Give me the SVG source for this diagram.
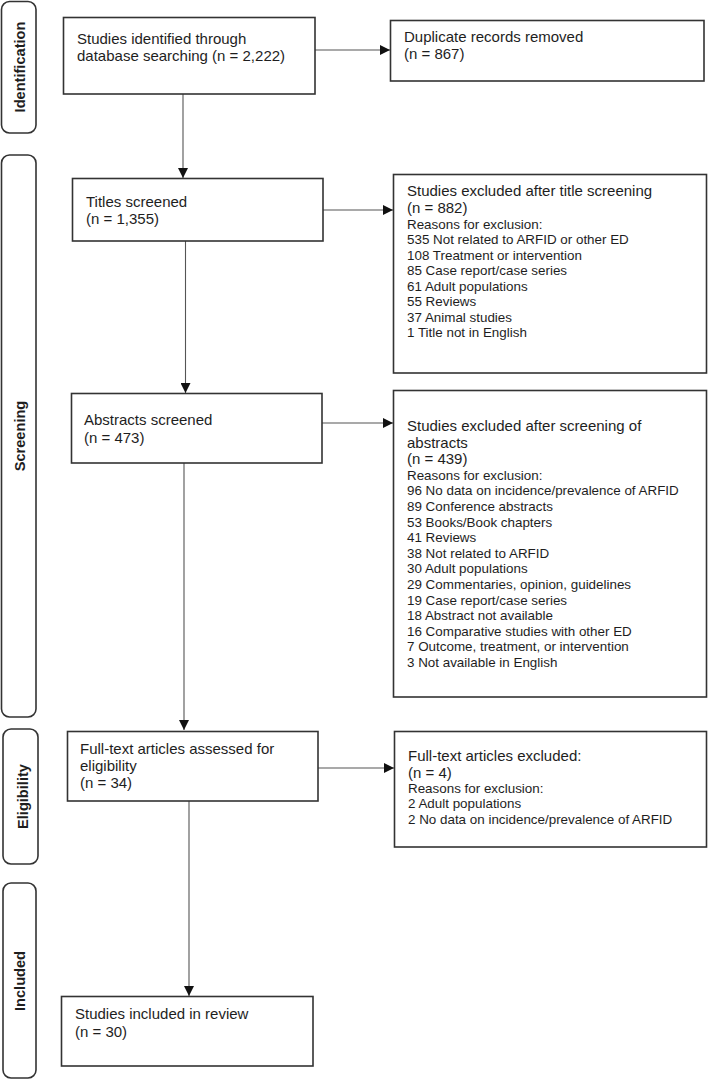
<svg xmlns="http://www.w3.org/2000/svg" width="709" height="1079" viewBox="0 0 709 1079">
<style>
.bg{fill:#ffffff}
.box{fill:#ffffff;stroke:#333333;stroke-width:1.6}
.bar{fill:#ffffff;stroke:#333333;stroke-width:1.6}
.t{font-family:"Liberation Sans",Arial,sans-serif;font-size:15px;fill:#1e1e1e}
.s{font-family:"Liberation Sans",Arial,sans-serif;font-size:13.4px;fill:#1e1e1e}
.lab{font-family:"Liberation Sans",Arial,sans-serif;font-size:14.6px;font-weight:bold;fill:#1e1e1e;text-anchor:middle}
.c{fill:none;stroke:#555555;stroke-width:1.1}
</style>
<defs>
<marker id="ah" viewBox="0 0 10 10" refX="10" refY="5" markerWidth="10" markerHeight="10" markerUnits="userSpaceOnUse" orient="auto">
<path d="M0,0 L10,5 L0,10 Z" fill="#111111"/>
</marker>
</defs>
<rect class="bg" x="0" y="0" width="709" height="1079"/>

<g id="phase-identification">
<rect class="bar" x="1.5" y="1.5" width="34.5" height="131.5" rx="8"/>
<text class="lab" transform="translate(24.5,67) rotate(-90)">Identification</text>
</g>
<g id="phase-screening">
<rect class="bar" x="1.5" y="155" width="34.5" height="562" rx="8"/>
<text class="lab" transform="translate(24.5,436) rotate(-90)">Screening</text>
</g>
<g id="phase-eligibility">
<rect class="bar" x="3" y="729" width="35" height="135" rx="8"/>
<text class="lab" transform="translate(27.5,796.5) rotate(-90)">Eligibility</text>
</g>
<g id="phase-included">
<rect class="bar" x="3" y="883" width="33" height="195" rx="8"/>
<text class="lab" transform="translate(25,981) rotate(-90)">Included</text>
</g>

<g id="connectors">
<line class="c" x1="183" y1="94" x2="183" y2="178" marker-end="url(#ah)"/>
<line class="c" x1="315" y1="50" x2="390" y2="50" marker-end="url(#ah)"/>
<line class="c" x1="323" y1="210" x2="393" y2="210" marker-end="url(#ah)"/>
<line class="c" x1="185.5" y1="241" x2="185.5" y2="393" marker-end="url(#ah)"/>
<line class="c" x1="322" y1="423" x2="393" y2="423" marker-end="url(#ah)"/>
<line class="c" x1="184" y1="463" x2="184" y2="730" marker-end="url(#ah)"/>
<line class="c" x1="318" y1="768" x2="394" y2="768" marker-end="url(#ah)"/>
<line class="c" x1="189" y1="801" x2="189" y2="996" marker-end="url(#ah)"/>
</g>

<g id="identified">
<rect class="box" x="63.5" y="17.5" width="251.5" height="76.5"/>
<text class="t" x="77" y="44">Studies identified through</text>
<text class="t" x="77" y="61">database searching (n = 2,222)</text>
</g>
<g id="duplicates">
<rect class="box" x="390.5" y="20.5" width="313.5" height="60.5"/>
<text class="t" x="404" y="42">Duplicate records removed</text>
<text class="t" x="404" y="59">(n = 867)</text>
</g>
<g id="titles">
<rect class="box" x="72.5" y="178.5" width="250.5" height="62.5"/>
<text class="t" x="86" y="207">Titles screened</text>
<text class="t" x="86" y="224">(n = 1,355)</text>
</g>
<g id="titles-excluded">
<rect class="box" x="393.5" y="174.5" width="313" height="198.5"/>
<text class="t" x="407" y="196">Studies excluded after title screening</text>
<text class="t" x="407" y="213">(n = 882)</text>
<text class="s" x="407" y="228.5">Reasons for exclusion:</text>
<text class="s" x="407" y="244">535 Not related to ARFID or other ED</text>
<text class="s" x="407" y="259.5">108 Treatment or intervention</text>
<text class="s" x="407" y="275">85 Case report/case series</text>
<text class="s" x="407" y="290.5">61 Adult populations</text>
<text class="s" x="407" y="306">55 Reviews</text>
<text class="s" x="407" y="321.5">37 Animal studies</text>
<text class="s" x="407" y="337">1 Title not in English</text>
</g>
<g id="abstracts">
<rect class="box" x="71.5" y="393.5" width="250.5" height="69.5"/>
<text class="t" x="84" y="425">Abstracts screened</text>
<text class="t" x="84" y="443">(n = 473)</text>
</g>
<g id="abstracts-excluded">
<rect class="box" x="393.5" y="390.5" width="313" height="306.5"/>
<text class="t" x="407" y="431">Studies excluded after screening of</text>
<text class="t" x="407" y="447.5">abstracts</text>
<text class="t" x="407" y="464">(n = 439)</text>
<text class="s" x="407" y="479.5">Reasons for exclusion:</text>
<text class="s" x="407" y="495.3">96 No data on incidence/prevalence of ARFID</text>
<text class="s" x="407" y="510.9">89 Conference abstracts</text>
<text class="s" x="407" y="526.5">53 Books/Book chapters</text>
<text class="s" x="407" y="542.1">41 Reviews</text>
<text class="s" x="407" y="557.7">38 Not related to ARFID</text>
<text class="s" x="407" y="573.3">30 Adult populations</text>
<text class="s" x="407" y="588.9">29 Commentaries, opinion, guidelines</text>
<text class="s" x="407" y="604.5">19 Case report/case series</text>
<text class="s" x="407" y="620.1">18 Abstract not available</text>
<text class="s" x="407" y="635.7">16 Comparative studies with other ED</text>
<text class="s" x="407" y="651.3">7 Outcome, treatment, or intervention</text>
<text class="s" x="407" y="667">3 Not available in English</text>
</g>
<g id="fulltext">
<rect class="box" x="67.5" y="731.5" width="250.5" height="69.5"/>
<text class="t" x="80" y="754">Full-text articles assessed for</text>
<text class="t" x="80" y="771">eligibility</text>
<text class="t" x="80" y="787.5">(n = 34)</text>
</g>
<g id="fulltext-excluded">
<rect class="box" x="394.5" y="731.5" width="312" height="115.5"/>
<text class="t" x="408" y="761">Full-text articles excluded:</text>
<text class="t" x="408" y="777.5">(n = 4)</text>
<text class="s" x="408" y="792.5">Reasons for exclusion:</text>
<text class="s" x="408" y="808">2 Adult populations</text>
<text class="s" x="408" y="823.5">2 No data on incidence/prevalence of ARFID</text>
</g>
<g id="included">
<rect class="box" x="61.5" y="996.5" width="251.5" height="69.5"/>
<text class="t" x="75" y="1019">Studies included in review</text>
<text class="t" x="75" y="1037">(n = 30)</text>
</g>
</svg>
